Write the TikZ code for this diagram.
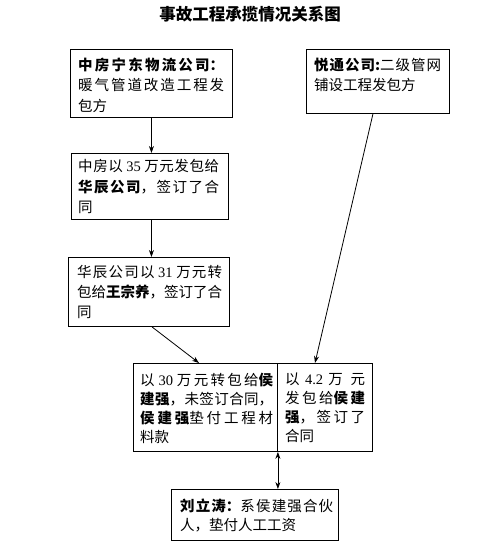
\documentclass[tikz,border=0pt]{standalone}
\usepackage{fontspec}
\setmainfont{Noto Sans CJK SC}
\newfontfamily\lat{Liberation Serif}
\usetikzlibrary{arrows.meta,calc}
\XeTeXlinebreaklocale "zh"
\XeTeXlinebreakskip=0pt plus 6pt
\tolerance=10000
\hbadness=10000
\newcommand\nm[1]{{\lat #1}}
\newcommand\boxtext[3]{\parbox[t]{#1}{\fontsize{14.5}{#2}\selectfont #3}}
\tikzset{
  box/.style={draw, line width=0.9pt, inner sep=0pt, anchor=north west},
  txt/.style={anchor=north west, inner sep=0pt},
  arr/.style={line width=0.8pt, -{Stealth[length=7pt,width=5pt]}},
  darr/.style={line width=0.8pt, {Stealth[length=7pt,width=5pt]}-{Stealth[length=7pt,width=5pt]}},
}
\begin{document}
\begin{tikzpicture}[x=1pt,y=-1pt]
\fill[white] (0,0) rectangle (500,552);
\useasboundingbox (0,0) rectangle (500,552);
\node[font=\bfseries\fontsize{16.5}{20}\selectfont] (title) at (250,14) {事故工程承揽情况关系图};
% boxes
\node[box, minimum width=162pt, minimum height=68pt] (b1) at (70,49) {};
\node[box, minimum width=143pt, minimum height=64pt] (b2) at (306,49) {};
\node[box, minimum width=157pt, minimum height=66pt] (b3) at (71,153) {};
\node[box, minimum width=161pt, minimum height=69pt] (b4) at (68,257) {};
\node[box, minimum width=144pt, minimum height=88pt] (b5) at (133,363) {};
\node[box, minimum width=95pt, minimum height=88pt] (b6) at (277,363) {};
\node[box, minimum width=167pt, minimum height=51pt] (b7) at (171,489) {};
% texts
\node[txt] (t1) at ($(b1.north west)+(8,8.5)$) {\boxtext{146pt}{20.5}{\textbf{中房宁东物流公司：}\linebreak 暖气管道改造工程发\linebreak 包方}};
\node[txt] (t2) at ($(b2.north west)+(8,8.5)$) {\boxtext{127pt}{20.5}{\textbf{悦通公司:}二级管网\linebreak 铺设工程发包方}};
\node[txt] (t3) at ($(b3.north west)+(7,6.5)$) {\boxtext{141pt}{20.5}{中房以 \nm{35} 万元发包给\linebreak \textbf{华辰公司}，签订了合\linebreak 同}};
\node[txt] (t4) at ($(b4.north west)+(9,8.5)$) {\boxtext{145pt}{20}{华辰公司以 \nm{31} 万元转\linebreak 包给\textbf{王宗养}，签订了合\linebreak 同}};
\node[txt] (t5) at ($(b5.north west)+(7,9.5)$) {\boxtext{133pt}{19}{以 \nm{30} 万元转包给\textbf{侯}\linebreak \textbf{建强}，未签订合同，\linebreak \textbf{侯建强}垫付工程材\linebreak 料款}};
\node[txt] (t6) at ($(b6.north west)+(8,9.5)$) {\boxtext{80pt}{19}{以 \nm{4.2} 万元\linebreak 发包给\textbf{侯建}\linebreak \textbf{强}，签订了\linebreak 合同}};
\node[txt] (t7) at ($(b7.north west)+(9,9.5)$) {\boxtext{153pt}{19}{\textbf{刘立涛：}系侯建强合伙\linebreak 人，垫付人工工资}};
% connectors
\draw[arr] (b1.south) -- (b1.south |- b3.north);
\draw[arr] (b3.south -| b1.south) -- (b1.south |- b4.north);
\draw[arr] ($(b4.south west)+(84,0)$) -- ($(b5.north west)+(66,0)$);
\draw[arr] ($(b2.south)+(-5,0)$) -- ($(b6.north west)+(38,0)$);
\draw[darr] (b5.south east) -- (b5.south east |- b7.north);
\end{tikzpicture}
\end{document}
